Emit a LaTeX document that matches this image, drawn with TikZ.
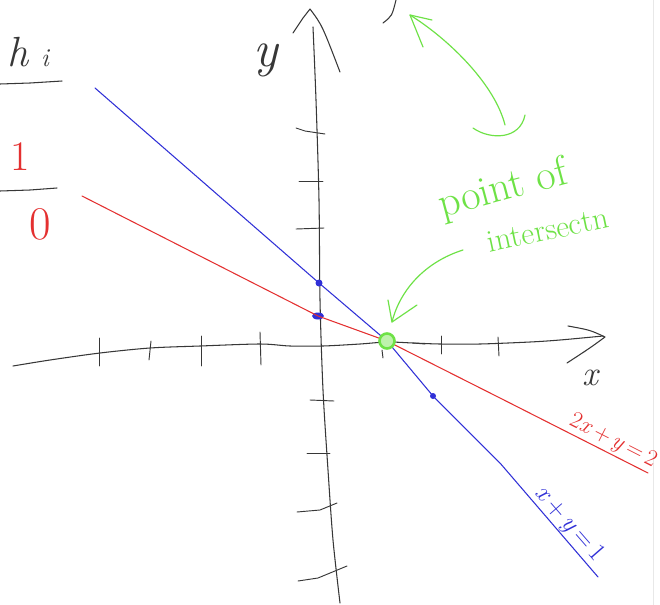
\documentclass[tikz,border=0pt]{standalone}
\usepackage{fontspec}
\usetikzlibrary{arrows.meta}
\newcommand\hsz[1]{\fontsize{#1}{#1}\selectfont}
\definecolor{penred}{RGB}{228,48,48}
\definecolor{penblue}{RGB}{48,48,215}
\definecolor{pengreen}{RGB}{110,226,70}
\definecolor{penblack}{RGB}{55,55,55}
\begin{document}
\begin{tikzpicture}[x=0.03cm,y=-0.03cm,
  pen/.style={line width=0.9pt,line cap=round,line join=round},
  axis/.style={pen,draw=penblack},
  tickmark/.style={pen,draw=penblack,line width=0.8pt},
  redline/.style={pen,draw=penred},
  blueline/.style={pen,draw=penblue},
  greenpen/.style={pen,draw=pengreen,line width=1pt},
  lbl/.style={inner sep=0pt,outer sep=0pt}]
\useasboundingbox (0,0) rectangle (660,605);
\fill[white] (0,0) rectangle (660,605);
\draw[gray!18,line width=0.6pt] (653,0) -- (653,605);

% ---- table at top left
\node[lbl,text=penblack,font=\hsz{36}\itshape] (hlab) at (28,52) {h\hspace{11pt}{\hsz{22}i}};
\draw[axis] (0,84) -- (30,83) -- (62,81);
\node[lbl,text=penred,font=\hsz{36}] (one) at (20,157) {1};
\draw[axis] (0,191) -- (30,190) -- (57,188);
\node[lbl,text=penred,font=\hsz{40}] (zero) at (40,224) {0};

% ---- stray stroke at top
\draw[axis] (383,23) .. controls (392,16) .. (396,0);

% ---- x axis
\draw[axis] plot[smooth] coordinates {(13,366) (50,360) (100,353) (150,348) (200,346) (260,344) (290,346) (323,346) (360,344) (387,342) (413,343) (440,344) (480,344) (530,342) (560,340) (603,336)};
\draw[axis] (568,326) .. controls (590,330) .. (605,337) .. controls (590,348) .. (567,363);
\coordinate (xend) at (605,337);
\node[lbl,text=penblack,font=\hsz{30}\itshape] (xlab) at (590,378) {x};

% ---- y axis
\draw[axis] plot[smooth] coordinates {(313,27) (316,100) (319,200) (320,300) (323,390) (328,470) (333,540) (340,603)};
\draw[axis] (293,33) -- (303,18) -- (310,9) .. controls (322,25) .. (340,72);
\coordinate (yend) at (310,9);
\node[lbl,text=penblack,font=\hsz{44}\itshape] (ylab) at (266,60) {y};

% ---- ticks on x axis
\draw[tickmark] (99,338) -- (99,366);
\draw[tickmark] (151,341) -- (149,360);
\draw[tickmark] (201,336) -- (201,366);
\draw[tickmark] (260,332) -- (261,365);
\draw[tickmark] (382,350) -- (383,358);
\draw[tickmark] (413,343) -- (425,344);
\draw[tickmark] (441,336) -- (441,354);
\draw[tickmark] (498,337) -- (499,356);

% ---- ticks on y axis
\draw[tickmark] (296,128) -- (305,131) -- (325,134);
\draw[tickmark] (299,181) -- (323,181);
\draw[tickmark] (296,229) -- (324,228);
\draw[tickmark] (310,400) -- (334,401);
\draw[tickmark] (307,453) -- (330,453);
\draw[tickmark] (297,512) -- (320,510) -- (337,503);
\draw[tickmark] (298,581) -- (318,578) -- (347,566);

% ---- the two lines
\coordinate (P) at (387,341);
\coordinate (B1) at (319,283);
\coordinate (B2) at (433,396);
\coordinate (R1) at (318,316);
\fill[penblue] (R1) ellipse [x radius=6, y radius=3.5];
\draw[blueline] (95,88) -- (B1) -- (P) -- (B2) -- (500,463) -- (598,577);
\draw[redline] (82,196) -- (R1) -- (P) -- (500,398) -- (648,473);
\fill[penblue] (B1) circle [radius=3.5];
\fill[penblue] (B2) circle [radius=3];
\node[lbl,text=penred,font=\hsz{20}] (redlab) at (613,441) [rotate=-27] {2\textit{x}\,+\,\textit{y}\,=\,2};
\node[lbl,text=penblue,font=\hsz{22}] (bluelab) at (569,524) [rotate=-49] {\textit{x}\,+\,\textit{y}\,=\,1};

% ---- point of intersection
\draw[pengreen,fill=pengreen!45,line width=2.2pt] (P) circle [radius=7.5];
\node[lbl,text=pengreen,font=\hsz{36}] (poi1) at (503,190) [rotate=15] {point of};
\node[lbl,text=pengreen,font=\hsz{27}] (poi2) at (548,230) [rotate=12] {intersectn};
\coordinate (a1) at (463,250);
\coordinate (a1tip) at (392,322);
\draw[greenpen] (a1) .. controls (425,262) and (400,290) .. (a1tip);
\draw[greenpen] (388,300) -- (a1tip) -- (417,305);
\coordinate (d1) at (410,15);
\coordinate (d2) at (505,125);
\draw[greenpen] (d1) .. controls (450,40) and (495,85) .. (d2);
\draw[greenpen] (423,47) -- (d1) -- (432,20);
\draw[greenpen] (473,128) .. controls (490,140) and (520,140) .. (525,115);
\end{tikzpicture}
\end{document}
